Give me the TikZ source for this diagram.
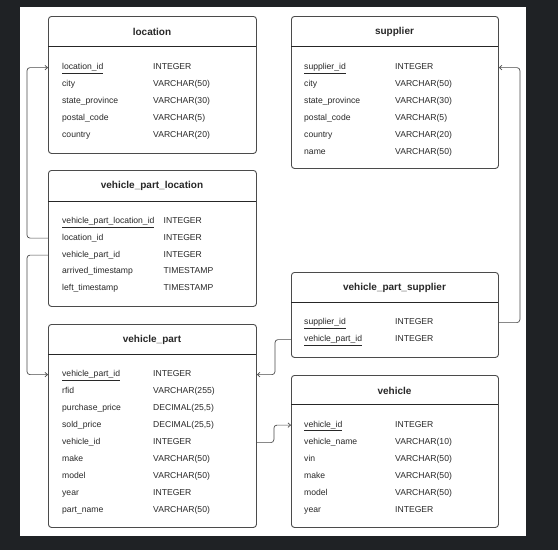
\documentclass[tikz,border=0pt]{standalone}
\usepackage{fontspec}
\setmainfont{Liberation Sans}
\usetikzlibrary{arrows.meta}
\definecolor{bgdark}{RGB}{31,34,37}
\definecolor{txt}{RGB}{40,40,40}
\definecolor{edge}{RGB}{75,75,75}
\tikzset{
  tbl/.style={draw=edge, line width=0.9pt, rounded corners=3pt, fill=white, anchor=north west, inner sep=0pt},
  ttl/.style={font=\fontsize{10}{12}\selectfont\bfseries, text=txt, inner sep=0pt},
  hdr/.style={draw=black!85, line width=1pt},
  cell/.style={font=\fontsize{8.6}{10}\selectfont, text=txt, anchor=west, inner sep=0pt, text height=6.2pt, text depth=1.6pt, yshift=-0.6pt},
  conn/.style={draw=edge, line width=0.7pt, rounded corners=3pt, -{Straight Barb[length=2.5pt,width=4.5pt]}},
}
\newcommand{\erow}[6]{\node[cell] (#1) at (#2,#4) {#5}; \node[cell] (#1-ty) at (#3,#4) {#6};}
\newcommand{\pk}[1]{\underline{#1}}
\begin{document}
\begin{tikzpicture}[x=1pt,y=-1pt]
\fill[bgdark] (0,0) rectangle (558,550);
\fill[white] (20,7) rectangle (526,536);
\useasboundingbox (0,0) rectangle (558,550);

% location
\node[tbl, minimum width=208pt, minimum height=137pt] (loc) at (48,16) {};
\node[ttl] (loc-title) at (152,32) {location};
\draw[hdr] (48,46) -- (256,46);
\erow{loc-1}{62}{153}{67}{\pk{location\_id}}{INTEGER}
\erow{loc-2}{62}{153}{83.5}{city}{VARCHAR(50)}
\erow{loc-3}{62}{153}{100.5}{state\_province}{VARCHAR(30)}
\erow{loc-4}{62}{153}{117.5}{postal\_code}{VARCHAR(5)}
\erow{loc-5}{62}{153}{134.5}{country}{VARCHAR(20)}

% supplier
\node[tbl, minimum width=207pt, minimum height=152pt] (sup) at (291,16) {};
\node[ttl] (sup-title) at (394.5,32) {supplier};
\draw[hdr] (291,46) -- (498,46);
\erow{sup-1}{304}{395}{67}{\pk{supplier\_id}}{INTEGER}
\erow{sup-2}{304}{395}{83.5}{city}{VARCHAR(50)}
\erow{sup-3}{304}{395}{100.5}{state\_province}{VARCHAR(30)}
\erow{sup-4}{304}{395}{117.5}{postal\_code}{VARCHAR(5)}
\erow{sup-5}{304}{395}{134.5}{country}{VARCHAR(20)}
\erow{sup-6}{304}{395}{151.5}{name}{VARCHAR(50)}

% vehicle_part_location
\node[tbl, minimum width=208pt, minimum height=136pt] (vpl) at (48,170) {};
\node[ttl] (vpl-title) at (152,186) {vehicle\_part\_location};
\draw[hdr] (48,201) -- (256,201);
\erow{vpl-1}{62}{163.5}{221}{\pk{vehicle\_part\_location\_id}}{INTEGER}
\erow{vpl-2}{62}{163.5}{237.5}{location\_id}{INTEGER}
\erow{vpl-3}{62}{163.5}{254.5}{vehicle\_part\_id}{INTEGER}
\erow{vpl-4}{62}{163.5}{271}{arrived\_timestamp}{TIMESTAMP}
\erow{vpl-5}{62}{163.5}{288}{left\_timestamp}{TIMESTAMP}

% vehicle_part_supplier
\node[tbl, minimum width=207pt, minimum height=85pt] (vps) at (291,272) {};
\node[ttl] (vps-title) at (394.5,287.5) {vehicle\_part\_supplier};
\draw[hdr] (291,302) -- (498,302);
\erow{vps-1}{304}{395}{322}{\pk{supplier\_id}}{INTEGER}
\erow{vps-2}{304}{395}{339}{\pk{vehicle\_part\_id}}{INTEGER}

% vehicle_part
\node[tbl, minimum width=208pt, minimum height=203pt] (vp) at (48,324) {};
\node[ttl] (vp-title) at (152,340) {vehicle\_part};
\draw[hdr] (48,354) -- (256,354);
\erow{vp-1}{62}{153}{374}{\pk{vehicle\_part\_id}}{INTEGER}
\erow{vp-2}{62}{153}{391}{rfid}{VARCHAR(255)}
\erow{vp-3}{62}{153}{408}{purchase\_price}{DECIMAL(25,5)}
\erow{vp-4}{62}{153}{425}{sold\_price}{DECIMAL(25,5)}
\erow{vp-5}{62}{153}{442}{vehicle\_id}{INTEGER}
\erow{vp-6}{62}{153}{459}{make}{VARCHAR(50)}
\erow{vp-7}{62}{153}{476}{model}{VARCHAR(50)}
\erow{vp-8}{62}{153}{493}{year}{INTEGER}
\erow{vp-9}{62}{153}{510}{part\_name}{VARCHAR(50)}

% vehicle
\node[tbl, minimum width=207pt, minimum height=152pt] (veh) at (291,375) {};
\node[ttl] (veh-title) at (394.5,391) {vehicle};
\draw[hdr] (291,404) -- (498,404);
\erow{veh-1}{304}{395}{424.5}{\pk{vehicle\_id}}{INTEGER}
\erow{veh-2}{304}{395}{441.5}{vehicle\_name}{VARCHAR(10)}
\erow{veh-3}{304}{395}{458.5}{vin}{VARCHAR(50)}
\erow{veh-4}{304}{395}{475.5}{make}{VARCHAR(50)}
\erow{veh-5}{304}{395}{492.5}{model}{VARCHAR(50)}
\erow{veh-6}{304}{395}{509.5}{year}{INTEGER}

% connectors
\draw[conn] (vpl-2 -| vpl.west) -- ++(-21,0) |- (loc-1 -| loc.west);
\draw[conn] (vpl-3 -| vpl.west) -- ++(-21,0) |- (vp-1 -| vp.west);
\draw[conn] (vps-1 -| vps.east) -- ++(21,0) |- (sup-1 -| sup.east);
\draw[conn] (vps-2 -| vps.west) -- ++(-16,0) |- (vp-1 -| vp.east);
\draw[conn] (vp-5 -| vp.east) -- ++(17,0) |- (veh-1 -| veh.west);
\end{tikzpicture}
\end{document}
